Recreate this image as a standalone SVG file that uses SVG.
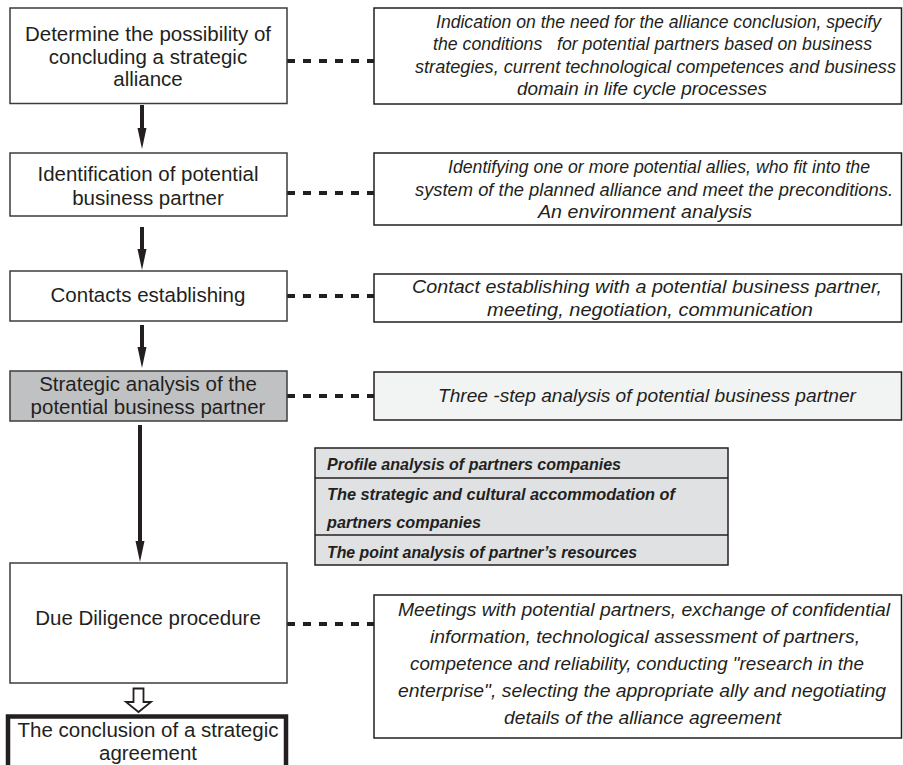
<svg xmlns="http://www.w3.org/2000/svg" width="903" height="765" viewBox="0 0 903 765">
<style>
.box{fill:#fff;stroke:#3c3c3c;stroke-width:1.5}
.grey{fill:#c0c1c3}
.rbox{fill:#fff;stroke:#231f20;stroke-width:1.5}
.light{fill:#f2f3f3}
.tbl{fill:#e0e1e2;stroke:#231f20;stroke-width:1.5}
.t{font-family:"Liberation Sans",Arial,sans-serif;font-size:20.5px;fill:#231f20;text-anchor:middle}
.it{font-family:"Liberation Sans",Arial,sans-serif;font-size:18px;font-style:italic;fill:#231f20;white-space:pre}
.bi{font-family:"Liberation Sans",Arial,sans-serif;font-size:16.5px;font-style:italic;font-weight:bold;fill:#231f20}
.dash{stroke:#231f20;stroke-width:4;stroke-dasharray:8 8;fill:none}
.shaft{stroke:#231f20;stroke-width:4;fill:none}
</style>
<defs>
<marker id="ah" markerUnits="userSpaceOnUse" markerWidth="22" markerHeight="10" viewBox="0 -5 22 10" refX="0" refY="0" orient="auto"><path d="M0,-4.5 L21,0 L0,4.5 Z" fill="#231f20"/></marker>
</defs>

<g id="connectors">
<line class="shaft" x1="142" y1="105" x2="142" y2="128" marker-end="url(#ah)"/>
<line class="shaft" x1="142" y1="227" x2="142" y2="249" marker-end="url(#ah)"/>
<line class="shaft" x1="142" y1="325" x2="142" y2="347" marker-end="url(#ah)"/>
<line class="shaft" x1="140" y1="425" x2="140" y2="541" marker-end="url(#ah)"/>
<line class="dash" x1="287" y1="61" x2="375" y2="61"/>
<line class="dash" x1="287" y1="193" x2="375" y2="193"/>
<line class="dash" x1="287" y1="296" x2="375" y2="296"/>
<line class="dash" x1="287" y1="396" x2="375" y2="396"/>
<line class="dash" x1="287" y1="624" x2="375" y2="624"/>
<polygon points="133.5,688.5 143.5,688.5 143.5,702 151,702 138.5,712 126,702 133.5,702" fill="#fff" stroke="#231f20" stroke-width="1.8"/>
</g>

<g id="n1">
<rect class="box" x="10" y="8" width="277" height="95.5"/>
<text class="t" x="148" y="41">Determine the possibility of</text>
<text class="t" x="148" y="64">concluding a strategic</text>
<text class="t" x="148" y="86">alliance</text>
</g>
<g id="n1d">
<rect class="rbox" x="374" y="8" width="527.5" height="96"/>
<text class="it" x="436" y="27.5" textLength="445" lengthAdjust="spacingAndGlyphs">Indication on the need for the alliance conclusion, specify</text>
<text class="it" x="433" y="50" textLength="439" lengthAdjust="spacingAndGlyphs">the conditions   for potential partners based on business</text>
<text class="it" x="415" y="72.5" textLength="481" lengthAdjust="spacingAndGlyphs">strategies, current technological competences and business</text>
<text class="it" x="517" y="95" textLength="250" lengthAdjust="spacingAndGlyphs">domain in life cycle processes</text>
</g>

<g id="n2">
<rect class="box" x="10" y="153" width="277" height="63"/>
<text class="t" x="148" y="181">Identification of potential</text>
<text class="t" x="148" y="205">business partner</text>
</g>
<g id="n2d">
<rect class="rbox" x="374" y="153" width="527.5" height="72"/>
<text class="it" x="448" y="173" textLength="422" lengthAdjust="spacingAndGlyphs">Identifying one or more potential allies, who fit into the</text>
<text class="it" x="415" y="195.5" textLength="478" lengthAdjust="spacingAndGlyphs">system of the planned alliance and meet the preconditions.</text>
<text class="it" x="538" y="218" textLength="214" lengthAdjust="spacingAndGlyphs">An environment analysis</text>
</g>

<g id="n3">
<rect class="box" x="10" y="271" width="277" height="50"/>
<text class="t" x="148" y="302">Contacts establishing</text>
</g>
<g id="n3d">
<rect class="rbox" x="374" y="274" width="527.5" height="48"/>
<text class="it" x="412" y="293" textLength="470" lengthAdjust="spacingAndGlyphs">Contact establishing with a potential business partner,</text>
<text class="it" x="487" y="316" textLength="326" lengthAdjust="spacingAndGlyphs">meeting, negotiation, communication</text>
</g>

<g id="n4">
<rect class="box grey" x="10" y="371" width="277" height="50"/>
<text class="t" x="148" y="391">Strategic analysis of the</text>
<text class="t" x="148" y="414">potential business partner</text>
</g>
<g id="n4d">
<rect class="rbox light" x="374" y="372" width="527.5" height="48"/>
<text class="it" x="438" y="402" textLength="418" lengthAdjust="spacingAndGlyphs">Three -step analysis of potential business partner</text>
</g>

<g id="steps">
<rect class="tbl" x="315" y="448" width="413" height="117"/>
<line x1="315" y1="478" x2="728" y2="478" stroke="#231f20" stroke-width="1.5"/>
<line x1="315" y1="535" x2="728" y2="535" stroke="#231f20" stroke-width="1.5"/>
<text class="bi" x="327" y="470" textLength="294" lengthAdjust="spacingAndGlyphs">Profile analysis of partners companies</text>
<text class="bi" x="327" y="500" textLength="348" lengthAdjust="spacingAndGlyphs">The strategic and cultural accommodation of</text>
<text class="bi" x="327" y="528" textLength="154" lengthAdjust="spacingAndGlyphs">partners companies</text>
<text class="bi" x="327" y="558" textLength="310" lengthAdjust="spacingAndGlyphs">The point analysis of partner’s resources</text>
</g>

<g id="n5">
<rect class="box" x="10" y="563" width="277" height="120"/>
<text class="t" x="148" y="625">Due Diligence procedure</text>
</g>
<g id="n5d">
<rect class="rbox" x="374" y="595" width="527.5" height="143"/>
<text class="it" x="398" y="616" textLength="492" lengthAdjust="spacingAndGlyphs">Meetings with potential partners, exchange of confidential</text>
<text class="it" x="430" y="643" textLength="430" lengthAdjust="spacingAndGlyphs">information, technological assessment of partners,</text>
<text class="it" x="410" y="670" textLength="454" lengthAdjust="spacingAndGlyphs">competence and reliability, conducting "research in the</text>
<text class="it" x="398" y="697" textLength="488" lengthAdjust="spacingAndGlyphs">enterprise", selecting the appropriate ally and negotiating</text>
<text class="it" x="504" y="724" textLength="277" lengthAdjust="spacingAndGlyphs">details of the alliance agreement</text>
</g>

<g id="n6">
<rect x="8" y="716.5" width="278" height="70" fill="#fff" stroke="#231f20" stroke-width="4.5"/>
<text class="t" x="148" y="737">The conclusion of a strategic</text>
<text class="t" x="148" y="760">agreement</text>
</g>
</svg>
